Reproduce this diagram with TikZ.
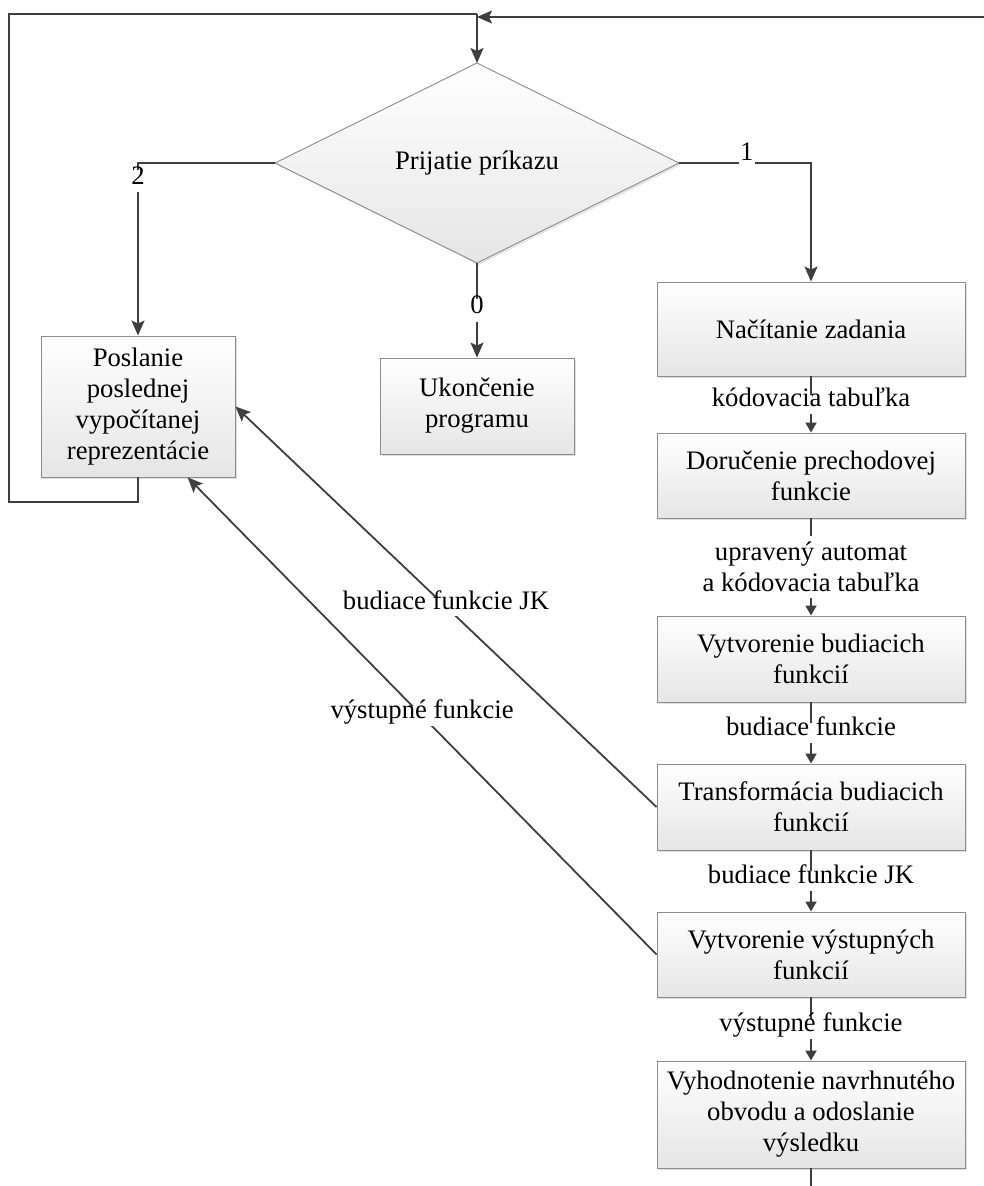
\documentclass[tikz,border=0pt]{standalone}
\usepackage{fontspec}
\setmainfont{Liberation Serif}
\usetikzlibrary{arrows.meta,shapes.geometric,shadows}
\definecolor{linec}{HTML}{3F3F3F}
\definecolor{edgec}{HTML}{8C8C8C}
\begin{document}
\begin{tikzpicture}[x=1pt,y=-1pt,
  font=\fontsize{26.7}{31}\selectfont,
  wire/.style={draw=linec,line width=1.8pt},
  flow/.style={wire,-{Stealth[length=15pt,width=13pt,inset=3pt]}},
  smallflow/.style={wire,-{Triangle[length=10pt,width=11pt]}},
  box/.style={draw=edgec,line width=0.9pt,top color=white,bottom color=black!10,
    align=center,inner sep=0pt,
    drop shadow={shadow xshift=2pt,shadow yshift=-2pt,opacity=0.25,fill=black!50}},
  decision/.style={diamond,draw=edgec,line width=0.9pt,top color=white,bottom color=black!10,
    inner sep=0pt,outer sep=0pt,aspect=2.02,minimum width=404pt,minimum height=200pt,
    drop shadow={shadow xshift=2pt,shadow yshift=-2pt,opacity=0.2,fill=black!50}},
  lab/.style={fill=white,inner xsep=3pt,inner ysep=5pt,text height=0.7em,text depth=0.22em},
  digit/.style={fill=white,inner xsep=1pt,inner ysep=8pt,text height=0.68em,text depth=0pt},
  lab2/.style={fill=white,inner xsep=3pt,inner ysep=6pt,align=center}
]
\useasboundingbox (0,0) rectangle (984,1186);

% decision and process boxes
\node[decision] (D) at (477,163) {Prijatie príkazu};
\node[box,minimum width=194pt,minimum height=141pt] (P) at (138,406.5)
  {Poslanie\\poslednej\\vypočítanej\\reprezentácie};
\node[box,minimum width=194pt,minimum height=96pt] (U) at (477,406)
  {Ukončenie\\programu};
\node[box,minimum width=308pt,minimum height=94pt] (B1) at (811,329)
  {Načítanie zadania};
\node[box,minimum width=308pt,minimum height=85pt] (B2) at (811,475.5)
  {Doručenie prechodovej\\funkcie};
\node[box,minimum width=308pt,minimum height=86pt] (B3) at (811,659)
  {Vytvorenie budiacich\\funkcií};
\node[box,minimum width=308pt,minimum height=86pt] (B4) at (811,807)
  {Transformácia budiacich\\funkcií};
\node[box,minimum width=308pt,minimum height=85pt] (B5) at (811,954.5)
  {Vytvorenie výstupných\\funkcií};
\node[box,minimum width=308pt,minimum height=107pt] (B6) at (811,1114.5)
  {Vyhodnotenie navrhnutého\\obvodu a odoslanie\\výsledku};

% loose ends of the return loop
\coordinate (LB) at (9,502);
\coordinate (TL) at (9,14);
\coordinate (J) at (477,14);
\coordinate (TR) at (984,17);
\coordinate (JR) at (477,17);
\coordinate (OUT) at (811,1186);

% return loop into the decision
\draw[wire] (P.south) |- (LB) -- (TL) -- (J);
\draw[flow] (J) -- (D.north);
\draw[flow] (TR) -- (JR);

% branches of the decision
\draw[flow] (D.west) -| (P.north);
\draw[flow] (D.east) -| (B1.north);
\draw[flow] (D.south) -- (U.north);

% processing chain
\draw[smallflow] (B1.south) -- (B2.north);
\draw[smallflow] (B2.south) -- (B3.north);
\draw[smallflow] (B3.south) -- (B4.north);
\draw[smallflow] (B4.south) -- (B5.north);
\draw[smallflow] (B5.south) -- (B6.north);
\draw[wire] (B6.south) -- (OUT);

% results sent back
\draw[flow] (B4.west) -- (P.east);
\draw[flow] (B5.west) -- (P.-55);

% connector labels, set on top of the lines
\path (D.west) -| node[digit,pos=0.552]{2} (P.north);
\path (D.east) -| node[digit,pos=0.257,yshift=6pt]{1} (B1.north);
\path (D.south) -- node[digit]{0} (U.north);
\path (B1.south) -- node[lab]{kódovacia tabuľka} (B2.north);
\path (B2.south) -- node[lab2]{upravený automat\\a kódovacia tabuľka} (B3.north);
\path (B3.south) -- node[lab]{budiace funkcie} (B4.north);
\path (B4.south) -- node[lab]{budiace funkcie JK} (B5.north);
\path (B5.south) -- node[lab]{výstupné funkcie} (B6.north);
\path (B4.west) -- node[lab]{budiace funkcie JK} (P.east);
\path (B5.west) -- node[lab]{výstupné funkcie} (P.-55);
\end{tikzpicture}
\end{document}
